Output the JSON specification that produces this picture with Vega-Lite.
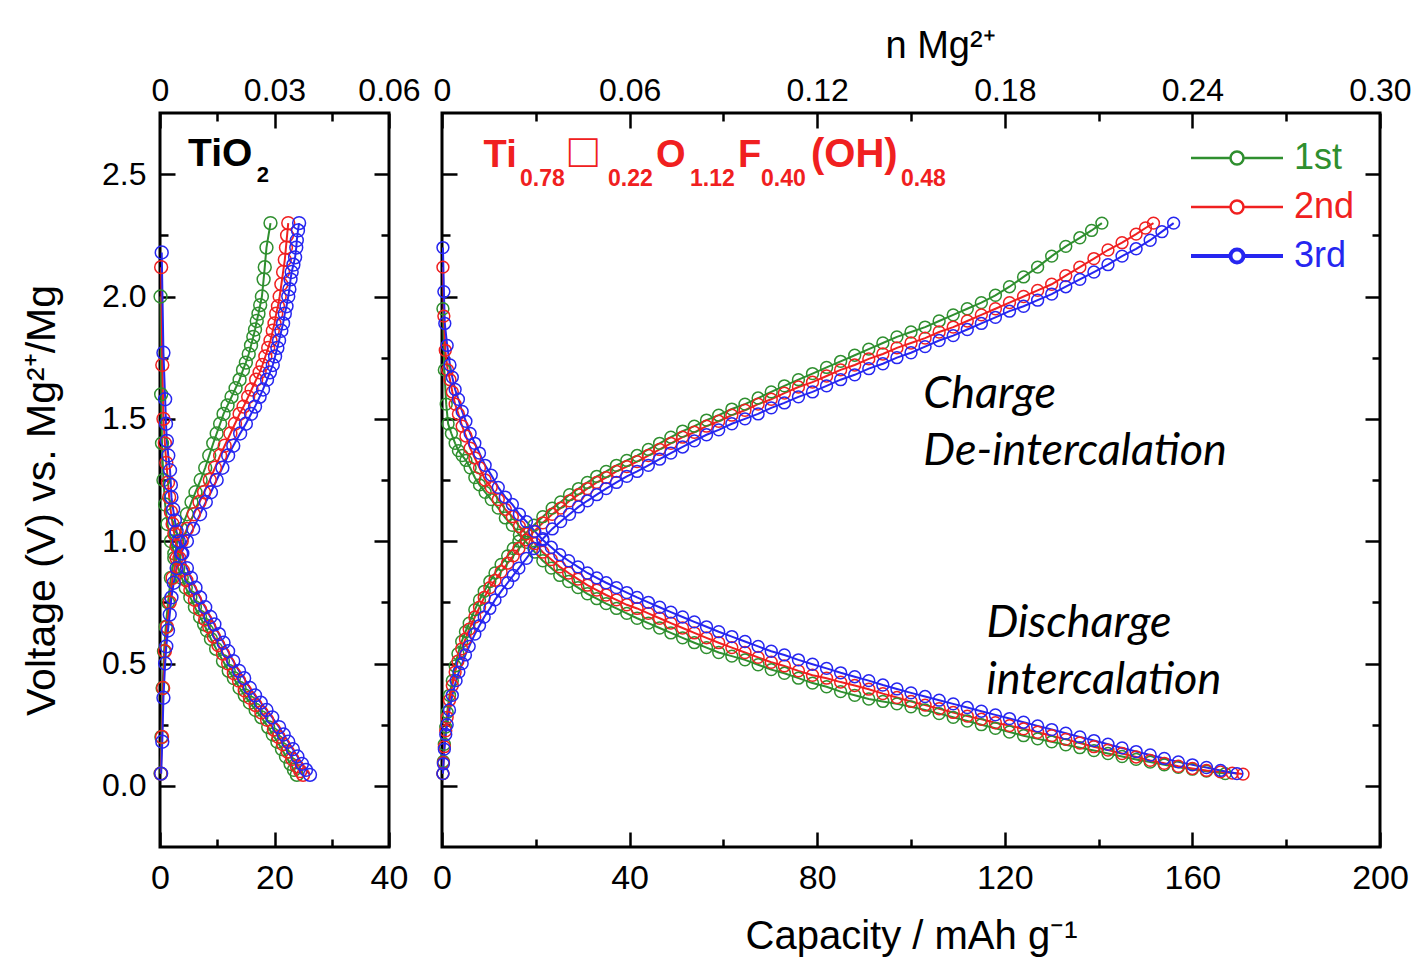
{
"$schema": "https://vega.github.io/schema/vega-lite/v6.json",
"padding": {"left": 20, "top": 25, "right": 5, "bottom": 2},
"bounds": "flush",
"spacing": 53,
"resolve": {"scale": {"x": "independent", "y": "independent", "color": "independent"}, "legend": {"color": "independent"}},
"config": {
 "view": {"stroke": "black", "strokeWidth": 3},
 "font": "Liberation Sans",
 "axis": {"domain": false, "grid": false, "labelFont": "Liberation Sans", "titleFont": "Liberation Sans", "labelColor": "black", "titleColor": "black", "tickColor": "black", "tickWidth": 2.5, "titleFontWeight": "normal", "labelFlush": false, "labelOverlap": false, "labelBound": false},
 "legend": {"title": null, "padding": 0, "rowPadding": 13, "symbolType": "M-4.6,0L-0.65,0M0.65,0L4.6,0M0.65,0A0.65,0.65,0,1,1,-0.65,0A0.65,0.65,0,1,1,0.65,0", "symbolSize": 400, "symbolOpacity": 1, "symbolFillColor": "transparent", "labelFont": "Liberation Sans", "labelFontSize": 36, "labelOffset": 39}
},
"datasets": {
"L": [
{"c":"1st","s":"d","x":0.1,"v":2.0},{"c":"1st","s":"d","x":0.2,"v":1.6},{"c":"1st","s":"d","x":0.35,"v":1.4},{"c":"1st","s":"d","x":0.6,"v":1.25},{"c":"1st","s":"d","x":0.9,"v":1.15},{"c":"1st","s":"d","x":1.3,"v":1.07},{"c":"1st","s":"d","x":1.9,"v":1.0},{"c":"1st","s":"d","x":2.5,"v":0.95},{"c":"1st","s":"d","x":3.2,"v":0.89},{"c":"1st","s":"d","x":3.8,"v":0.85},{"c":"1st","s":"d","x":4.5,"v":0.81},{"c":"1st","s":"d","x":5.3,"v":0.77},{"c":"1st","s":"d","x":6.1,"v":0.73},{"c":"1st","s":"d","x":7.0,"v":0.69},{"c":"1st","s":"d","x":7.7,"v":0.66},{"c":"1st","s":"d","x":8.2,"v":0.635},{"c":"1st","s":"d","x":8.9,"v":0.6},{"c":"1st","s":"d","x":9.8,"v":0.56},{"c":"1st","s":"d","x":11.0,"v":0.51},{"c":"1st","s":"d","x":12.0,"v":0.47},{"c":"1st","s":"d","x":12.9,"v":0.44},{"c":"1st","s":"d","x":13.9,"v":0.4},{"c":"1st","s":"d","x":14.8,"v":0.37},{"c":"1st","s":"d","x":15.7,"v":0.34},{"c":"1st","s":"d","x":16.7,"v":0.31},{"c":"1st","s":"d","x":17.7,"v":0.28},{"c":"1st","s":"d","x":18.9,"v":0.24},{"c":"1st","s":"d","x":19.7,"v":0.21},{"c":"1st","s":"d","x":20.5,"v":0.18},{"c":"1st","s":"d","x":21.3,"v":0.15},{"c":"1st","s":"d","x":22.0,"v":0.12},{"c":"1st","s":"d","x":22.8,"v":0.09},{"c":"1st","s":"d","x":23.4,"v":0.065},{"c":"1st","s":"d","x":23.9,"v":0.045},
{"c":"1st","s":"c","x":0.1,"v":0.05},{"c":"1st","s":"c","x":0.25,"v":0.2},{"c":"1st","s":"c","x":0.45,"v":0.4},{"c":"1st","s":"c","x":0.7,"v":0.55},{"c":"1st","s":"c","x":1.0,"v":0.65},{"c":"1st","s":"c","x":1.4,"v":0.75},{"c":"1st","s":"c","x":1.9,"v":0.85},{"c":"1st","s":"c","x":2.5,"v":0.93},{"c":"1st","s":"c","x":3.0,"v":1.0},{"c":"1st","s":"c","x":3.7,"v":1.05},{"c":"1st","s":"c","x":4.7,"v":1.11},{"c":"1st","s":"c","x":5.5,"v":1.16},{"c":"1st","s":"c","x":6.2,"v":1.2},{"c":"1st","s":"c","x":7.1,"v":1.25},{"c":"1st","s":"c","x":7.9,"v":1.3},{"c":"1st","s":"c","x":8.6,"v":1.35},{"c":"1st","s":"c","x":9.3,"v":1.4},{"c":"1st","s":"c","x":9.9,"v":1.44},{"c":"1st","s":"c","x":10.5,"v":1.48},{"c":"1st","s":"c","x":11.1,"v":1.52},{"c":"1st","s":"c","x":11.8,"v":1.555},{"c":"1st","s":"c","x":12.5,"v":1.59},{"c":"1st","s":"c","x":13.2,"v":1.625},{"c":"1st","s":"c","x":13.9,"v":1.66},{"c":"1st","s":"c","x":14.5,"v":1.7},{"c":"1st","s":"c","x":15.0,"v":1.73},{"c":"1st","s":"c","x":15.5,"v":1.765},{"c":"1st","s":"c","x":15.9,"v":1.8},{"c":"1st","s":"c","x":16.3,"v":1.835},{"c":"1st","s":"c","x":16.6,"v":1.865},{"c":"1st","s":"c","x":16.9,"v":1.9},{"c":"1st","s":"c","x":17.2,"v":1.93},{"c":"1st","s":"c","x":17.5,"v":1.965},{"c":"1st","s":"c","x":17.8,"v":2.0},{"c":"1st","s":"c","x":18.1,"v":2.07},{"c":"1st","s":"c","x":18.3,"v":2.12},{"c":"1st","s":"c","x":18.6,"v":2.2},{"c":"1st","s":"c","x":19.3,"v":2.3},
{"c":"2nd","s":"d","x":0.2,"v":2.12},{"c":"2nd","s":"d","x":0.4,"v":1.72},{"c":"2nd","s":"d","x":0.6,"v":1.5},{"c":"2nd","s":"d","x":0.85,"v":1.4},{"c":"2nd","s":"d","x":1.1,"v":1.32},{"c":"2nd","s":"d","x":1.4,"v":1.24},{"c":"2nd","s":"d","x":1.6,"v":1.18},{"c":"2nd","s":"d","x":1.9,"v":1.12},{"c":"2nd","s":"d","x":2.2,"v":1.07},{"c":"2nd","s":"d","x":2.5,"v":1.03},{"c":"2nd","s":"d","x":2.9,"v":0.98},{"c":"2nd","s":"d","x":3.4,"v":0.93},{"c":"2nd","s":"d","x":4.0,"v":0.88},{"c":"2nd","s":"d","x":4.6,"v":0.84},{"c":"2nd","s":"d","x":5.3,"v":0.8},{"c":"2nd","s":"d","x":6.1,"v":0.76},{"c":"2nd","s":"d","x":7.0,"v":0.72},{"c":"2nd","s":"d","x":7.9,"v":0.68},{"c":"2nd","s":"d","x":8.6,"v":0.65},{"c":"2nd","s":"d","x":9.4,"v":0.61},{"c":"2nd","s":"d","x":10.2,"v":0.575},{"c":"2nd","s":"d","x":11.0,"v":0.54},{"c":"2nd","s":"d","x":11.9,"v":0.5},{"c":"2nd","s":"d","x":12.9,"v":0.46},{"c":"2nd","s":"d","x":13.8,"v":0.43},{"c":"2nd","s":"d","x":14.8,"v":0.39},{"c":"2nd","s":"d","x":15.7,"v":0.36},{"c":"2nd","s":"d","x":16.7,"v":0.33},{"c":"2nd","s":"d","x":17.7,"v":0.3},{"c":"2nd","s":"d","x":18.7,"v":0.27},{"c":"2nd","s":"d","x":19.9,"v":0.23},{"c":"2nd","s":"d","x":20.7,"v":0.2},{"c":"2nd","s":"d","x":21.5,"v":0.17},{"c":"2nd","s":"d","x":22.3,"v":0.14},{"c":"2nd","s":"d","x":23.1,"v":0.11},{"c":"2nd","s":"d","x":23.9,"v":0.08},{"c":"2nd","s":"d","x":24.5,"v":0.06},{"c":"2nd","s":"d","x":25.0,"v":0.045},
{"c":"2nd","s":"c","x":0.15,"v":0.05},{"c":"2nd","s":"c","x":0.35,"v":0.2},{"c":"2nd","s":"c","x":0.55,"v":0.4},{"c":"2nd","s":"c","x":0.85,"v":0.55},{"c":"2nd","s":"c","x":1.2,"v":0.65},{"c":"2nd","s":"c","x":1.7,"v":0.75},{"c":"2nd","s":"c","x":2.2,"v":0.85},{"c":"2nd","s":"c","x":2.9,"v":0.93},{"c":"2nd","s":"c","x":3.8,"v":1.0},{"c":"2nd","s":"c","x":4.7,"v":1.05},{"c":"2nd","s":"c","x":5.9,"v":1.11},{"c":"2nd","s":"c","x":6.9,"v":1.16},{"c":"2nd","s":"c","x":7.7,"v":1.2},{"c":"2nd","s":"c","x":8.7,"v":1.25},{"c":"2nd","s":"c","x":9.6,"v":1.3},{"c":"2nd","s":"c","x":10.5,"v":1.35},{"c":"2nd","s":"c","x":11.3,"v":1.39},{"c":"2nd","s":"c","x":12.3,"v":1.44},{"c":"2nd","s":"c","x":13.1,"v":1.48},{"c":"2nd","s":"c","x":13.9,"v":1.52},{"c":"2nd","s":"c","x":14.6,"v":1.55},{"c":"2nd","s":"c","x":15.4,"v":1.59},{"c":"2nd","s":"c","x":16.0,"v":1.62},{"c":"2nd","s":"c","x":16.8,"v":1.66},{"c":"2nd","s":"c","x":17.4,"v":1.69},{"c":"2nd","s":"c","x":17.9,"v":1.72},{"c":"2nd","s":"c","x":18.4,"v":1.755},{"c":"2nd","s":"c","x":18.9,"v":1.79},{"c":"2nd","s":"c","x":19.3,"v":1.82},{"c":"2nd","s":"c","x":19.7,"v":1.86},{"c":"2nd","s":"c","x":20.0,"v":1.89},{"c":"2nd","s":"c","x":20.3,"v":1.93},{"c":"2nd","s":"c","x":20.6,"v":1.96},{"c":"2nd","s":"c","x":20.9,"v":2.0},{"c":"2nd","s":"c","x":21.2,"v":2.05},{"c":"2nd","s":"c","x":21.5,"v":2.1},{"c":"2nd","s":"c","x":21.8,"v":2.15},{"c":"2nd","s":"c","x":22.0,"v":2.2},{"c":"2nd","s":"c","x":22.2,"v":2.25},{"c":"2nd","s":"c","x":22.4,"v":2.3},
{"c":"3rd","s":"d","x":0.3,"v":2.18},{"c":"3rd","s":"d","x":0.6,"v":1.77},{"c":"3rd","s":"d","x":0.9,"v":1.58},{"c":"3rd","s":"d","x":1.05,"v":1.48},{"c":"3rd","s":"d","x":1.2,"v":1.41},{"c":"3rd","s":"d","x":1.45,"v":1.35},{"c":"3rd","s":"d","x":1.75,"v":1.29},{"c":"3rd","s":"d","x":1.9,"v":1.23},{"c":"3rd","s":"d","x":2.0,"v":1.18},{"c":"3rd","s":"d","x":2.3,"v":1.13},{"c":"3rd","s":"d","x":2.6,"v":1.085},{"c":"3rd","s":"d","x":2.9,"v":1.04},{"c":"3rd","s":"d","x":3.3,"v":1.0},{"c":"3rd","s":"d","x":3.9,"v":0.95},{"c":"3rd","s":"d","x":4.7,"v":0.89},{"c":"3rd","s":"d","x":5.4,"v":0.85},{"c":"3rd","s":"d","x":6.2,"v":0.81},{"c":"3rd","s":"d","x":7.0,"v":0.77},{"c":"3rd","s":"d","x":7.9,"v":0.73},{"c":"3rd","s":"d","x":8.8,"v":0.69},{"c":"3rd","s":"d","x":9.5,"v":0.66},{"c":"3rd","s":"d","x":10.3,"v":0.62},{"c":"3rd","s":"d","x":11.1,"v":0.585},{"c":"3rd","s":"d","x":11.9,"v":0.55},{"c":"3rd","s":"d","x":12.8,"v":0.51},{"c":"3rd","s":"d","x":13.8,"v":0.47},{"c":"3rd","s":"d","x":14.7,"v":0.44},{"c":"3rd","s":"d","x":15.7,"v":0.4},{"c":"3rd","s":"d","x":16.6,"v":0.37},{"c":"3rd","s":"d","x":17.6,"v":0.34},{"c":"3rd","s":"d","x":18.6,"v":0.31},{"c":"3rd","s":"d","x":19.6,"v":0.28},{"c":"3rd","s":"d","x":20.8,"v":0.24},{"c":"3rd","s":"d","x":21.6,"v":0.21},{"c":"3rd","s":"d","x":22.4,"v":0.18},{"c":"3rd","s":"d","x":23.2,"v":0.15},{"c":"3rd","s":"d","x":24.0,"v":0.12},{"c":"3rd","s":"d","x":24.8,"v":0.09},{"c":"3rd","s":"d","x":25.5,"v":0.065},{"c":"3rd","s":"d","x":26.2,"v":0.045},
{"c":"3rd","s":"c","x":0.2,"v":0.05},{"c":"3rd","s":"c","x":0.4,"v":0.18},{"c":"3rd","s":"c","x":0.6,"v":0.36},{"c":"3rd","s":"c","x":0.9,"v":0.5},{"c":"3rd","s":"c","x":1.1,"v":0.57},{"c":"3rd","s":"c","x":1.4,"v":0.635},{"c":"3rd","s":"c","x":1.7,"v":0.7},{"c":"3rd","s":"c","x":2.0,"v":0.77},{"c":"3rd","s":"c","x":2.4,"v":0.83},{"c":"3rd","s":"c","x":2.9,"v":0.89},{"c":"3rd","s":"c","x":3.7,"v":0.95},{"c":"3rd","s":"c","x":4.7,"v":1.0},{"c":"3rd","s":"c","x":5.8,"v":1.05},{"c":"3rd","s":"c","x":7.0,"v":1.11},{"c":"3rd","s":"c","x":8.0,"v":1.16},{"c":"3rd","s":"c","x":8.9,"v":1.2},{"c":"3rd","s":"c","x":9.9,"v":1.25},{"c":"3rd","s":"c","x":10.9,"v":1.3},{"c":"3rd","s":"c","x":11.9,"v":1.35},{"c":"3rd","s":"c","x":12.8,"v":1.39},{"c":"3rd","s":"c","x":14.0,"v":1.44},{"c":"3rd","s":"c","x":15.0,"v":1.48},{"c":"3rd","s":"c","x":15.9,"v":1.52},{"c":"3rd","s":"c","x":16.6,"v":1.55},{"c":"3rd","s":"c","x":17.4,"v":1.59},{"c":"3rd","s":"c","x":18.0,"v":1.62},{"c":"3rd","s":"c","x":18.7,"v":1.66},{"c":"3rd","s":"c","x":19.2,"v":1.69},{"c":"3rd","s":"c","x":19.7,"v":1.72},{"c":"3rd","s":"c","x":20.1,"v":1.755},{"c":"3rd","s":"c","x":20.5,"v":1.79},{"c":"3rd","s":"c","x":20.8,"v":1.82},{"c":"3rd","s":"c","x":21.2,"v":1.86},{"c":"3rd","s":"c","x":21.5,"v":1.89},{"c":"3rd","s":"c","x":21.8,"v":1.93},{"c":"3rd","s":"c","x":22.1,"v":1.96},{"c":"3rd","s":"c","x":22.4,"v":2.0},{"c":"3rd","s":"c","x":22.6,"v":2.03},{"c":"3rd","s":"c","x":22.8,"v":2.07},{"c":"3rd","s":"c","x":23.0,"v":2.1},{"c":"3rd","s":"c","x":23.3,"v":2.13},{"c":"3rd","s":"c","x":23.6,"v":2.16},{"c":"3rd","s":"c","x":23.8,"v":2.2},{"c":"3rd","s":"c","x":23.9,"v":2.23},{"c":"3rd","s":"c","x":24.1,"v":2.27},{"c":"3rd","s":"c","x":24.3,"v":2.3}
],
"R": [
{"c":"1st","s":"d","x":0.2,"v":1.95},{"c":"1st","s":"d","x":0.5,"v":1.7},{"c":"1st","s":"d","x":0.9,"v":1.56},{"c":"1st","s":"d","x":1.3,"v":1.48},{"c":"1st","s":"d","x":2.0,"v":1.44},{"c":"1st","s":"d","x":2.8,"v":1.4},{"c":"1st","s":"d","x":3.5,"v":1.37},{"c":"1st","s":"d","x":4.3,"v":1.35},{"c":"1st","s":"d","x":5.1,"v":1.33},{"c":"1st","s":"d","x":6.0,"v":1.3},{"c":"1st","s":"d","x":7.0,"v":1.26},{"c":"1st","s":"d","x":8.0,"v":1.23},{"c":"1st","s":"d","x":9.2,"v":1.2},{"c":"1st","s":"d","x":10.5,"v":1.17},{"c":"1st","s":"d","x":12.0,"v":1.135},{"c":"1st","s":"d","x":13.5,"v":1.095},{"c":"1st","s":"d","x":15.0,"v":1.065},{"c":"1st","s":"d","x":16.5,"v":1.025},{"c":"1st","s":"d","x":18.0,"v":0.995},{"c":"1st","s":"d","x":19.8,"v":0.955},{"c":"1st","s":"d","x":21.5,"v":0.92},{"c":"1st","s":"d","x":23.3,"v":0.89},{"c":"1st","s":"d","x":25.1,"v":0.86},{"c":"1st","s":"d","x":27.0,"v":0.835},{"c":"1st","s":"d","x":29.0,"v":0.81},{"c":"1st","s":"d","x":31.0,"v":0.785},{"c":"1st","s":"d","x":33.0,"v":0.765},{"c":"1st","s":"d","x":35.0,"v":0.745},{"c":"1st","s":"d","x":37.2,"v":0.725},{"c":"1st","s":"d","x":39.4,"v":0.705},{"c":"1st","s":"d","x":41.6,"v":0.685},{"c":"1st","s":"d","x":44.0,"v":0.665},{"c":"1st","s":"d","x":46.4,"v":0.645},{"c":"1st","s":"d","x":48.8,"v":0.625},{"c":"1st","s":"d","x":51.3,"v":0.605},{"c":"1st","s":"d","x":53.8,"v":0.585},{"c":"1st","s":"d","x":56.4,"v":0.565},{"c":"1st","s":"d","x":59.0,"v":0.545},{"c":"1st","s":"d","x":61.8,"v":0.53},{"c":"1st","s":"d","x":64.6,"v":0.515},{"c":"1st","s":"d","x":67.4,"v":0.495},{"c":"1st","s":"d","x":70.2,"v":0.475},{"c":"1st","s":"d","x":73.0,"v":0.46},{"c":"1st","s":"d","x":76.0,"v":0.44},{"c":"1st","s":"d","x":79.0,"v":0.42},{"c":"1st","s":"d","x":82.0,"v":0.405},{"c":"1st","s":"d","x":85.0,"v":0.385},{"c":"1st","s":"d","x":88.0,"v":0.37},{"c":"1st","s":"d","x":91.0,"v":0.355},{"c":"1st","s":"d","x":94.0,"v":0.345},{"c":"1st","s":"d","x":97.0,"v":0.335},{"c":"1st","s":"d","x":100.0,"v":0.323},{"c":"1st","s":"d","x":103.0,"v":0.31},{"c":"1st","s":"d","x":106.0,"v":0.295},{"c":"1st","s":"d","x":109.0,"v":0.28},{"c":"1st","s":"d","x":112.0,"v":0.265},{"c":"1st","s":"d","x":115.0,"v":0.25},{"c":"1st","s":"d","x":118.0,"v":0.235},{"c":"1st","s":"d","x":121.0,"v":0.22},{"c":"1st","s":"d","x":124.0,"v":0.205},{"c":"1st","s":"d","x":127.0,"v":0.192},{"c":"1st","s":"d","x":130.0,"v":0.18},{"c":"1st","s":"d","x":133.0,"v":0.168},{"c":"1st","s":"d","x":136.0,"v":0.156},{"c":"1st","s":"d","x":139.0,"v":0.144},{"c":"1st","s":"d","x":142.0,"v":0.132},{"c":"1st","s":"d","x":145.0,"v":0.12},{"c":"1st","s":"d","x":148.0,"v":0.108},{"c":"1st","s":"d","x":151.0,"v":0.097},{"c":"1st","s":"d","x":154.0,"v":0.086},{"c":"1st","s":"d","x":157.0,"v":0.076},{"c":"1st","s":"d","x":160.0,"v":0.068},{"c":"1st","s":"d","x":163.0,"v":0.06},{"c":"1st","s":"d","x":167.0,"v":0.05},
{"c":"1st","s":"c","x":0.2,"v":0.05},{"c":"1st","s":"c","x":0.3,"v":0.1},{"c":"1st","s":"c","x":0.5,"v":0.17},{"c":"1st","s":"c","x":0.8,"v":0.24},{"c":"1st","s":"c","x":1.1,"v":0.3},{"c":"1st","s":"c","x":1.6,"v":0.37},{"c":"1st","s":"c","x":2.2,"v":0.43},{"c":"1st","s":"c","x":2.8,"v":0.49},{"c":"1st","s":"c","x":3.4,"v":0.54},{"c":"1st","s":"c","x":4.2,"v":0.59},{"c":"1st","s":"c","x":5.0,"v":0.63},{"c":"1st","s":"c","x":5.8,"v":0.665},{"c":"1st","s":"c","x":7.0,"v":0.72},{"c":"1st","s":"c","x":8.0,"v":0.76},{"c":"1st","s":"c","x":9.0,"v":0.795},{"c":"1st","s":"c","x":10.2,"v":0.835},{"c":"1st","s":"c","x":11.3,"v":0.87},{"c":"1st","s":"c","x":12.6,"v":0.905},{"c":"1st","s":"c","x":14.0,"v":0.94},{"c":"1st","s":"c","x":15.2,"v":0.97},{"c":"1st","s":"c","x":16.4,"v":1.0},{"c":"1st","s":"c","x":18.0,"v":1.035},{"c":"1st","s":"c","x":19.6,"v":1.065},{"c":"1st","s":"c","x":21.5,"v":1.1},{"c":"1st","s":"c","x":23.5,"v":1.135},{"c":"1st","s":"c","x":25.3,"v":1.16},{"c":"1st","s":"c","x":27.2,"v":1.19},{"c":"1st","s":"c","x":29.1,"v":1.215},{"c":"1st","s":"c","x":31.0,"v":1.24},{"c":"1st","s":"c","x":33.0,"v":1.265},{"c":"1st","s":"c","x":35.0,"v":1.285},{"c":"1st","s":"c","x":37.2,"v":1.31},{"c":"1st","s":"c","x":39.4,"v":1.33},{"c":"1st","s":"c","x":41.6,"v":1.35},{"c":"1st","s":"c","x":44.0,"v":1.375},{"c":"1st","s":"c","x":46.4,"v":1.4},{"c":"1st","s":"c","x":48.8,"v":1.425},{"c":"1st","s":"c","x":51.3,"v":1.45},{"c":"1st","s":"c","x":53.8,"v":1.47},{"c":"1st","s":"c","x":56.4,"v":1.495},{"c":"1st","s":"c","x":59.0,"v":1.515},{"c":"1st","s":"c","x":61.8,"v":1.54},{"c":"1st","s":"c","x":64.6,"v":1.56},{"c":"1st","s":"c","x":67.4,"v":1.585},{"c":"1st","s":"c","x":70.2,"v":1.61},{"c":"1st","s":"c","x":73.0,"v":1.635},{"c":"1st","s":"c","x":76.0,"v":1.66},{"c":"1st","s":"c","x":79.0,"v":1.685},{"c":"1st","s":"c","x":82.0,"v":1.71},{"c":"1st","s":"c","x":85.0,"v":1.735},{"c":"1st","s":"c","x":88.0,"v":1.76},{"c":"1st","s":"c","x":91.0,"v":1.785},{"c":"1st","s":"c","x":94.0,"v":1.81},{"c":"1st","s":"c","x":97.0,"v":1.835},{"c":"1st","s":"c","x":100.0,"v":1.855},{"c":"1st","s":"c","x":103.0,"v":1.875},{"c":"1st","s":"c","x":106.0,"v":1.9},{"c":"1st","s":"c","x":109.0,"v":1.925},{"c":"1st","s":"c","x":112.0,"v":1.95},{"c":"1st","s":"c","x":115.0,"v":1.975},{"c":"1st","s":"c","x":118.0,"v":2.005},{"c":"1st","s":"c","x":121.0,"v":2.04},{"c":"1st","s":"c","x":124.0,"v":2.08},{"c":"1st","s":"c","x":127.0,"v":2.12},{"c":"1st","s":"c","x":130.0,"v":2.165},{"c":"1st","s":"c","x":133.0,"v":2.205},{"c":"1st","s":"c","x":136.0,"v":2.24},{"c":"1st","s":"c","x":138.5,"v":2.27},{"c":"1st","s":"c","x":140.7,"v":2.3},
{"c":"2nd","s":"d","x":0.2,"v":2.12},{"c":"2nd","s":"d","x":0.4,"v":1.92},{"c":"2nd","s":"d","x":0.7,"v":1.78},{"c":"2nd","s":"d","x":1.2,"v":1.7},{"c":"2nd","s":"d","x":1.7,"v":1.66},{"c":"2nd","s":"d","x":2.2,"v":1.61},{"c":"2nd","s":"d","x":2.8,"v":1.56},{"c":"2nd","s":"d","x":3.5,"v":1.52},{"c":"2nd","s":"d","x":4.3,"v":1.47},{"c":"2nd","s":"d","x":5.1,"v":1.43},{"c":"2nd","s":"d","x":6.0,"v":1.38},{"c":"2nd","s":"d","x":7.0,"v":1.34},{"c":"2nd","s":"d","x":8.0,"v":1.3},{"c":"2nd","s":"d","x":9.2,"v":1.25},{"c":"2nd","s":"d","x":10.5,"v":1.22},{"c":"2nd","s":"d","x":12.0,"v":1.17},{"c":"2nd","s":"d","x":13.5,"v":1.13},{"c":"2nd","s":"d","x":15.0,"v":1.1},{"c":"2nd","s":"d","x":16.5,"v":1.06},{"c":"2nd","s":"d","x":18.0,"v":1.03},{"c":"2nd","s":"d","x":19.8,"v":0.99},{"c":"2nd","s":"d","x":21.5,"v":0.955},{"c":"2nd","s":"d","x":23.3,"v":0.925},{"c":"2nd","s":"d","x":25.1,"v":0.895},{"c":"2nd","s":"d","x":27.0,"v":0.87},{"c":"2nd","s":"d","x":29.0,"v":0.845},{"c":"2nd","s":"d","x":31.0,"v":0.82},{"c":"2nd","s":"d","x":33.0,"v":0.8},{"c":"2nd","s":"d","x":35.0,"v":0.78},{"c":"2nd","s":"d","x":37.2,"v":0.76},{"c":"2nd","s":"d","x":39.4,"v":0.74},{"c":"2nd","s":"d","x":41.6,"v":0.725},{"c":"2nd","s":"d","x":44.0,"v":0.705},{"c":"2nd","s":"d","x":46.4,"v":0.685},{"c":"2nd","s":"d","x":48.8,"v":0.665},{"c":"2nd","s":"d","x":51.3,"v":0.645},{"c":"2nd","s":"d","x":53.8,"v":0.625},{"c":"2nd","s":"d","x":56.4,"v":0.605},{"c":"2nd","s":"d","x":59.0,"v":0.585},{"c":"2nd","s":"d","x":61.8,"v":0.565},{"c":"2nd","s":"d","x":64.6,"v":0.545},{"c":"2nd","s":"d","x":67.4,"v":0.525},{"c":"2nd","s":"d","x":70.2,"v":0.505},{"c":"2nd","s":"d","x":73.0,"v":0.49},{"c":"2nd","s":"d","x":76.0,"v":0.47},{"c":"2nd","s":"d","x":79.0,"v":0.452},{"c":"2nd","s":"d","x":82.0,"v":0.44},{"c":"2nd","s":"d","x":85.0,"v":0.424},{"c":"2nd","s":"d","x":88.0,"v":0.41},{"c":"2nd","s":"d","x":91.0,"v":0.395},{"c":"2nd","s":"d","x":94.0,"v":0.377},{"c":"2nd","s":"d","x":97.0,"v":0.361},{"c":"2nd","s":"d","x":100.0,"v":0.345},{"c":"2nd","s":"d","x":103.0,"v":0.33},{"c":"2nd","s":"d","x":106.0,"v":0.315},{"c":"2nd","s":"d","x":109.0,"v":0.3},{"c":"2nd","s":"d","x":112.0,"v":0.285},{"c":"2nd","s":"d","x":115.0,"v":0.272},{"c":"2nd","s":"d","x":118.0,"v":0.258},{"c":"2nd","s":"d","x":121.0,"v":0.246},{"c":"2nd","s":"d","x":124.0,"v":0.233},{"c":"2nd","s":"d","x":127.0,"v":0.219},{"c":"2nd","s":"d","x":130.0,"v":0.205},{"c":"2nd","s":"d","x":133.0,"v":0.19},{"c":"2nd","s":"d","x":136.0,"v":0.175},{"c":"2nd","s":"d","x":139.0,"v":0.16},{"c":"2nd","s":"d","x":142.0,"v":0.146},{"c":"2nd","s":"d","x":145.0,"v":0.132},{"c":"2nd","s":"d","x":148.0,"v":0.118},{"c":"2nd","s":"d","x":151.0,"v":0.104},{"c":"2nd","s":"d","x":154.0,"v":0.092},{"c":"2nd","s":"d","x":157.0,"v":0.08},{"c":"2nd","s":"d","x":160.0,"v":0.071},{"c":"2nd","s":"d","x":163.0,"v":0.063},{"c":"2nd","s":"d","x":166.0,"v":0.057},{"c":"2nd","s":"d","x":168.5,"v":0.052},{"c":"2nd","s":"d","x":170.8,"v":0.048},
{"c":"2nd","s":"c","x":0.2,"v":0.05},{"c":"2nd","s":"c","x":0.3,"v":0.095},{"c":"2nd","s":"c","x":0.5,"v":0.16},{"c":"2nd","s":"c","x":0.8,"v":0.225},{"c":"2nd","s":"c","x":1.1,"v":0.28},{"c":"2nd","s":"c","x":1.6,"v":0.35},{"c":"2nd","s":"c","x":2.2,"v":0.41},{"c":"2nd","s":"c","x":2.8,"v":0.465},{"c":"2nd","s":"c","x":3.4,"v":0.51},{"c":"2nd","s":"c","x":4.2,"v":0.56},{"c":"2nd","s":"c","x":5.0,"v":0.6},{"c":"2nd","s":"c","x":5.8,"v":0.64},{"c":"2nd","s":"c","x":7.0,"v":0.69},{"c":"2nd","s":"c","x":8.0,"v":0.73},{"c":"2nd","s":"c","x":9.0,"v":0.77},{"c":"2nd","s":"c","x":10.2,"v":0.81},{"c":"2nd","s":"c","x":11.3,"v":0.84},{"c":"2nd","s":"c","x":12.6,"v":0.875},{"c":"2nd","s":"c","x":14.0,"v":0.91},{"c":"2nd","s":"c","x":15.2,"v":0.94},{"c":"2nd","s":"c","x":16.4,"v":0.97},{"c":"2nd","s":"c","x":18.0,"v":1.005},{"c":"2nd","s":"c","x":19.6,"v":1.04},{"c":"2nd","s":"c","x":21.5,"v":1.075},{"c":"2nd","s":"c","x":23.5,"v":1.11},{"c":"2nd","s":"c","x":25.3,"v":1.135},{"c":"2nd","s":"c","x":27.2,"v":1.165},{"c":"2nd","s":"c","x":29.1,"v":1.19},{"c":"2nd","s":"c","x":31.0,"v":1.215},{"c":"2nd","s":"c","x":33.0,"v":1.24},{"c":"2nd","s":"c","x":35.0,"v":1.26},{"c":"2nd","s":"c","x":37.2,"v":1.285},{"c":"2nd","s":"c","x":39.4,"v":1.305},{"c":"2nd","s":"c","x":41.6,"v":1.325},{"c":"2nd","s":"c","x":44.0,"v":1.35},{"c":"2nd","s":"c","x":46.4,"v":1.375},{"c":"2nd","s":"c","x":48.8,"v":1.4},{"c":"2nd","s":"c","x":51.3,"v":1.425},{"c":"2nd","s":"c","x":53.8,"v":1.445},{"c":"2nd","s":"c","x":56.4,"v":1.47},{"c":"2nd","s":"c","x":59.0,"v":1.49},{"c":"2nd","s":"c","x":61.8,"v":1.515},{"c":"2nd","s":"c","x":64.6,"v":1.535},{"c":"2nd","s":"c","x":67.4,"v":1.56},{"c":"2nd","s":"c","x":70.2,"v":1.58},{"c":"2nd","s":"c","x":73.0,"v":1.605},{"c":"2nd","s":"c","x":76.0,"v":1.63},{"c":"2nd","s":"c","x":79.0,"v":1.65},{"c":"2nd","s":"c","x":82.0,"v":1.675},{"c":"2nd","s":"c","x":85.0,"v":1.7},{"c":"2nd","s":"c","x":88.0,"v":1.72},{"c":"2nd","s":"c","x":91.0,"v":1.745},{"c":"2nd","s":"c","x":94.0,"v":1.765},{"c":"2nd","s":"c","x":97.0,"v":1.79},{"c":"2nd","s":"c","x":100.0,"v":1.81},{"c":"2nd","s":"c","x":103.0,"v":1.83},{"c":"2nd","s":"c","x":106.0,"v":1.855},{"c":"2nd","s":"c","x":109.0,"v":1.875},{"c":"2nd","s":"c","x":112.0,"v":1.9},{"c":"2nd","s":"c","x":115.0,"v":1.925},{"c":"2nd","s":"c","x":118.0,"v":1.95},{"c":"2nd","s":"c","x":121.0,"v":1.975},{"c":"2nd","s":"c","x":124.0,"v":2.0},{"c":"2nd","s":"c","x":127.0,"v":2.025},{"c":"2nd","s":"c","x":130.0,"v":2.05},{"c":"2nd","s":"c","x":133.0,"v":2.085},{"c":"2nd","s":"c","x":136.0,"v":2.12},{"c":"2nd","s":"c","x":139.0,"v":2.155},{"c":"2nd","s":"c","x":142.0,"v":2.19},{"c":"2nd","s":"c","x":145.0,"v":2.22},{"c":"2nd","s":"c","x":148.0,"v":2.255},{"c":"2nd","s":"c","x":150.0,"v":2.28},{"c":"2nd","s":"c","x":151.7,"v":2.3},
{"c":"3rd","s":"d","x":0.2,"v":2.2},{"c":"3rd","s":"d","x":0.4,"v":2.02},{"c":"3rd","s":"d","x":0.6,"v":1.89},{"c":"3rd","s":"d","x":1.1,"v":1.8},{"c":"3rd","s":"d","x":1.7,"v":1.72},{"c":"3rd","s":"d","x":2.2,"v":1.67},{"c":"3rd","s":"d","x":2.8,"v":1.62},{"c":"3rd","s":"d","x":3.5,"v":1.58},{"c":"3rd","s":"d","x":4.3,"v":1.53},{"c":"3rd","s":"d","x":5.1,"v":1.49},{"c":"3rd","s":"d","x":6.0,"v":1.44},{"c":"3rd","s":"d","x":7.0,"v":1.4},{"c":"3rd","s":"d","x":8.0,"v":1.36},{"c":"3rd","s":"d","x":9.2,"v":1.31},{"c":"3rd","s":"d","x":10.5,"v":1.27},{"c":"3rd","s":"d","x":12.0,"v":1.22},{"c":"3rd","s":"d","x":13.5,"v":1.18},{"c":"3rd","s":"d","x":15.0,"v":1.15},{"c":"3rd","s":"d","x":16.5,"v":1.11},{"c":"3rd","s":"d","x":18.0,"v":1.08},{"c":"3rd","s":"d","x":19.8,"v":1.04},{"c":"3rd","s":"d","x":21.5,"v":1.005},{"c":"3rd","s":"d","x":23.3,"v":0.975},{"c":"3rd","s":"d","x":25.1,"v":0.945},{"c":"3rd","s":"d","x":27.0,"v":0.92},{"c":"3rd","s":"d","x":29.0,"v":0.895},{"c":"3rd","s":"d","x":31.0,"v":0.87},{"c":"3rd","s":"d","x":33.0,"v":0.85},{"c":"3rd","s":"d","x":35.0,"v":0.83},{"c":"3rd","s":"d","x":37.2,"v":0.81},{"c":"3rd","s":"d","x":39.4,"v":0.79},{"c":"3rd","s":"d","x":41.6,"v":0.77},{"c":"3rd","s":"d","x":44.0,"v":0.75},{"c":"3rd","s":"d","x":46.4,"v":0.73},{"c":"3rd","s":"d","x":48.8,"v":0.71},{"c":"3rd","s":"d","x":51.3,"v":0.69},{"c":"3rd","s":"d","x":53.8,"v":0.67},{"c":"3rd","s":"d","x":56.4,"v":0.65},{"c":"3rd","s":"d","x":59.0,"v":0.63},{"c":"3rd","s":"d","x":61.8,"v":0.61},{"c":"3rd","s":"d","x":64.6,"v":0.59},{"c":"3rd","s":"d","x":67.4,"v":0.57},{"c":"3rd","s":"d","x":70.2,"v":0.55},{"c":"3rd","s":"d","x":73.0,"v":0.535},{"c":"3rd","s":"d","x":76.0,"v":0.515},{"c":"3rd","s":"d","x":79.0,"v":0.497},{"c":"3rd","s":"d","x":82.0,"v":0.48},{"c":"3rd","s":"d","x":85.0,"v":0.462},{"c":"3rd","s":"d","x":88.0,"v":0.446},{"c":"3rd","s":"d","x":91.0,"v":0.43},{"c":"3rd","s":"d","x":94.0,"v":0.412},{"c":"3rd","s":"d","x":97.0,"v":0.396},{"c":"3rd","s":"d","x":100.0,"v":0.38},{"c":"3rd","s":"d","x":103.0,"v":0.365},{"c":"3rd","s":"d","x":106.0,"v":0.35},{"c":"3rd","s":"d","x":109.0,"v":0.335},{"c":"3rd","s":"d","x":112.0,"v":0.32},{"c":"3rd","s":"d","x":115.0,"v":0.305},{"c":"3rd","s":"d","x":118.0,"v":0.29},{"c":"3rd","s":"d","x":121.0,"v":0.275},{"c":"3rd","s":"d","x":124.0,"v":0.26},{"c":"3rd","s":"d","x":127.0,"v":0.245},{"c":"3rd","s":"d","x":130.0,"v":0.23},{"c":"3rd","s":"d","x":133.0,"v":0.215},{"c":"3rd","s":"d","x":136.0,"v":0.2},{"c":"3rd","s":"d","x":139.0,"v":0.185},{"c":"3rd","s":"d","x":142.0,"v":0.17},{"c":"3rd","s":"d","x":145.0,"v":0.155},{"c":"3rd","s":"d","x":148.0,"v":0.14},{"c":"3rd","s":"d","x":151.0,"v":0.126},{"c":"3rd","s":"d","x":154.0,"v":0.112},{"c":"3rd","s":"d","x":157.0,"v":0.098},{"c":"3rd","s":"d","x":160.0,"v":0.086},{"c":"3rd","s":"d","x":163.0,"v":0.075},{"c":"3rd","s":"d","x":166.0,"v":0.063},{"c":"3rd","s":"d","x":169.5,"v":0.05},
{"c":"3rd","s":"c","x":0.2,"v":0.05},{"c":"3rd","s":"c","x":0.3,"v":0.09},{"c":"3rd","s":"c","x":0.5,"v":0.15},{"c":"3rd","s":"c","x":0.8,"v":0.21},{"c":"3rd","s":"c","x":1.1,"v":0.25},{"c":"3rd","s":"c","x":1.6,"v":0.31},{"c":"3rd","s":"c","x":2.2,"v":0.37},{"c":"3rd","s":"c","x":3.0,"v":0.43},{"c":"3rd","s":"c","x":3.6,"v":0.465},{"c":"3rd","s":"c","x":4.3,"v":0.5},{"c":"3rd","s":"c","x":5.0,"v":0.535},{"c":"3rd","s":"c","x":5.8,"v":0.57},{"c":"3rd","s":"c","x":7.0,"v":0.62},{"c":"3rd","s":"c","x":8.0,"v":0.655},{"c":"3rd","s":"c","x":9.0,"v":0.69},{"c":"3rd","s":"c","x":10.2,"v":0.725},{"c":"3rd","s":"c","x":11.3,"v":0.76},{"c":"3rd","s":"c","x":12.6,"v":0.795},{"c":"3rd","s":"c","x":14.0,"v":0.83},{"c":"3rd","s":"c","x":15.2,"v":0.86},{"c":"3rd","s":"c","x":16.4,"v":0.89},{"c":"3rd","s":"c","x":18.0,"v":0.93},{"c":"3rd","s":"c","x":19.6,"v":0.97},{"c":"3rd","s":"c","x":21.5,"v":1.01},{"c":"3rd","s":"c","x":23.5,"v":1.05},{"c":"3rd","s":"c","x":25.3,"v":1.08},{"c":"3rd","s":"c","x":27.2,"v":1.11},{"c":"3rd","s":"c","x":29.1,"v":1.14},{"c":"3rd","s":"c","x":31.0,"v":1.165},{"c":"3rd","s":"c","x":33.0,"v":1.19},{"c":"3rd","s":"c","x":35.0,"v":1.215},{"c":"3rd","s":"c","x":37.2,"v":1.24},{"c":"3rd","s":"c","x":39.4,"v":1.265},{"c":"3rd","s":"c","x":41.6,"v":1.285},{"c":"3rd","s":"c","x":44.0,"v":1.31},{"c":"3rd","s":"c","x":46.4,"v":1.335},{"c":"3rd","s":"c","x":48.8,"v":1.36},{"c":"3rd","s":"c","x":51.3,"v":1.385},{"c":"3rd","s":"c","x":53.8,"v":1.41},{"c":"3rd","s":"c","x":56.4,"v":1.435},{"c":"3rd","s":"c","x":59.0,"v":1.455},{"c":"3rd","s":"c","x":61.8,"v":1.48},{"c":"3rd","s":"c","x":64.6,"v":1.5},{"c":"3rd","s":"c","x":67.4,"v":1.52},{"c":"3rd","s":"c","x":70.2,"v":1.545},{"c":"3rd","s":"c","x":73.0,"v":1.565},{"c":"3rd","s":"c","x":76.0,"v":1.59},{"c":"3rd","s":"c","x":79.0,"v":1.61},{"c":"3rd","s":"c","x":82.0,"v":1.635},{"c":"3rd","s":"c","x":85.0,"v":1.66},{"c":"3rd","s":"c","x":88.0,"v":1.68},{"c":"3rd","s":"c","x":91.0,"v":1.705},{"c":"3rd","s":"c","x":94.0,"v":1.725},{"c":"3rd","s":"c","x":97.0,"v":1.75},{"c":"3rd","s":"c","x":100.0,"v":1.77},{"c":"3rd","s":"c","x":103.0,"v":1.795},{"c":"3rd","s":"c","x":106.0,"v":1.82},{"c":"3rd","s":"c","x":109.0,"v":1.84},{"c":"3rd","s":"c","x":112.0,"v":1.865},{"c":"3rd","s":"c","x":115.0,"v":1.89},{"c":"3rd","s":"c","x":118.0,"v":1.915},{"c":"3rd","s":"c","x":121.0,"v":1.94},{"c":"3rd","s":"c","x":124.0,"v":1.96},{"c":"3rd","s":"c","x":127.0,"v":1.985},{"c":"3rd","s":"c","x":130.0,"v":2.01},{"c":"3rd","s":"c","x":133.0,"v":2.04},{"c":"3rd","s":"c","x":136.0,"v":2.07},{"c":"3rd","s":"c","x":139.0,"v":2.1},{"c":"3rd","s":"c","x":142.0,"v":2.13},{"c":"3rd","s":"c","x":145.0,"v":2.165},{"c":"3rd","s":"c","x":148.0,"v":2.195},{"c":"3rd","s":"c","x":151.0,"v":2.23},{"c":"3rd","s":"c","x":153.5,"v":2.265},{"c":"3rd","s":"c","x":156.0,"v":2.3}
]
},
"hconcat": [
{
 "width": 229, "height": 734,
 "data": {"name": "L"},
 "resolve": {"axis": {"x": "independent", "y": "independent"}},
 "layer": [
  {"mark": {"type": "line", "strokeWidth": 2},
   "encoding": {
    "x": {"field": "x", "type": "quantitative", "scale": {"domain": [0, 40], "nice": false, "zero": false},
      "axis": {"orient": "bottom", "title": null, "values": [0, 10, 20, 30, 40], "labelExpr": "datum.value % 20 === 0 ? format(datum.value, 'd') : ''", "labelFontSize": 34, "labelPadding": 29, "tickSize": {"condition": {"test": "datum.value % 20 === 0", "value": -15}, "value": -8}}},
    "y": {"field": "v", "type": "quantitative", "scale": {"domain": [-0.25, 2.75], "nice": false, "zero": false},
      "axis": {"orient": "left", "title": "Voltage (V) vs. Mg²⁺/Mg", "titleFontSize": 41, "titlePadding": 38, "titleY": 387, "values": [0, 0.25, 0.5, 0.75, 1, 1.25, 1.5, 1.75, 2, 2.25, 2.5], "labelExpr": "round(datum.value * 4) % 2 === 0 ? format(datum.value, '.1f') : ''", "labelFontSize": 32, "labelPadding": 29, "tickSize": {"condition": {"test": "round(datum.value * 4) % 2 === 0", "value": -15}, "value": -8}}},
    "color": {"field": "c", "type": "nominal", "scale": {"domain": ["1st", "2nd", "3rd"], "range": ["#2f8f2f", "#f02020", "#2626f0"]}, "legend": null},
    "detail": {"field": "s"}
   }},
  {"mark": {"type": "point", "shape": "circle", "filled": false, "size": 165, "strokeWidth": 1.5, "opacity": 1},
   "encoding": {
    "x": {"field": "x", "type": "quantitative", "scale": {"domain": [0, 40], "nice": false, "zero": false},
      "axis": {"orient": "top", "title": null, "values": [0, 10, 20, 30, 40], "labelExpr": "datum.value % 20 === 0 ? (datum.value === 0 ? '0' : format(datum.value * 0.0015, '.2f')) : ''", "labelFontSize": 32, "labelPadding": 21, "tickSize": {"condition": {"test": "datum.value % 20 === 0", "value": -15}, "value": -8}}},
    "y": {"field": "v", "type": "quantitative", "scale": {"domain": [-0.25, 2.75], "nice": false, "zero": false},
      "axis": {"orient": "right", "title": null, "labels": false, "values": [0, 0.25, 0.5, 0.75, 1, 1.25, 1.5, 1.75, 2, 2.25, 2.5], "tickSize": {"condition": {"test": "round(datum.value * 4) % 2 === 0", "value": -15}, "value": -8}}},
    "color": {"field": "c", "type": "nominal", "scale": {"domain": ["1st", "2nd", "3rd"], "range": ["#2f8f2f", "#f02020", "#2626f0"]}, "legend": null}
   }},
  {"data": {"values": [{}]},
   "mark": {"type": "text", "text": "TiO", "align": "left", "baseline": "alphabetic", "font": "Liberation Sans", "fontWeight": "bold", "fontSize": 39, "color": "black"},
   "encoding": {"x": {"datum": 4.9, "type": "quantitative", "axis": null}, "y": {"datum": 2.533, "type": "quantitative", "axis": null}}},
  {"data": {"values": [{}]},
   "mark": {"type": "text", "text": "2", "align": "left", "baseline": "alphabetic", "font": "Liberation Sans", "fontWeight": "bold", "fontSize": 22, "color": "black"},
   "encoding": {"x": {"datum": 16.9, "type": "quantitative", "axis": null}, "y": {"datum": 2.467, "type": "quantitative", "axis": null}}}
 ]
},
{
 "width": 938, "height": 734,
 "data": {"name": "R"},
 "resolve": {"axis": {"x": "independent", "y": "independent"}},
 "layer": [
  {"mark": {"type": "line", "strokeWidth": 2},
   "encoding": {
    "x": {"field": "x", "type": "quantitative", "scale": {"domain": [0, 200], "nice": false, "zero": false},
      "axis": {"orient": "bottom", "title": "Capacity / mAh g⁻¹", "titleFontSize": 40, "titlePadding": 14, "values": [0, 20, 40, 60, 80, 100, 120, 140, 160, 180, 200], "labelExpr": "datum.value % 40 === 0 ? format(datum.value, 'd') : ''", "labelFontSize": 34, "labelPadding": 29, "tickSize": {"condition": {"test": "datum.value % 40 === 0", "value": -15}, "value": -8}}},
    "y": {"field": "v", "type": "quantitative", "scale": {"domain": [-0.25, 2.75], "nice": false, "zero": false},
      "axis": {"orient": "left", "title": null, "labels": false, "values": [0, 0.25, 0.5, 0.75, 1, 1.25, 1.5, 1.75, 2, 2.25, 2.5], "tickSize": {"condition": {"test": "round(datum.value * 4) % 2 === 0", "value": -15}, "value": -8}}},
    "color": {"field": "c", "type": "nominal", "scale": {"domain": ["1st", "2nd", "3rd"], "range": ["#2f8f2f", "#f02020", "#2626f0"]},
      "legend": {"orient": "none", "legendX": 777, "legendY": 27, "labelColor": {"expr": "datum.label === '1st' ? '#2f8f2f' : datum.label === '2nd' ? '#f02020' : '#2626f0'"}, "symbolStrokeWidth": {"expr": "datum.label === '3rd' ? 4 : 2.5"}}},
    "detail": {"field": "s"}
   }},
  {"mark": {"type": "point", "shape": "circle", "filled": false, "size": 140, "strokeWidth": 1.5, "opacity": 1},
   "encoding": {
    "x": {"field": "x", "type": "quantitative", "scale": {"domain": [0, 200], "nice": false, "zero": false},
      "axis": {"orient": "top", "title": "n Mg²⁺", "titleFontSize": 38, "titlePadding": 2, "titleX": 498, "values": [0, 20, 40, 60, 80, 100, 120, 140, 160, 180, 200], "labelExpr": "datum.value % 40 === 0 ? (datum.value === 0 ? '0' : format(datum.value * 0.0015, '.2f')) : ''", "labelFontSize": 32, "labelPadding": 21, "tickSize": {"condition": {"test": "datum.value % 40 === 0", "value": -15}, "value": -8}}},
    "y": {"field": "v", "type": "quantitative", "scale": {"domain": [-0.25, 2.75], "nice": false, "zero": false},
      "axis": {"orient": "right", "title": null, "labels": false, "values": [0, 0.25, 0.5, 0.75, 1, 1.25, 1.5, 1.75, 2, 2.25, 2.5], "tickSize": {"condition": {"test": "round(datum.value * 4) % 2 === 0", "value": -15}, "value": -8}}},
    "color": {"field": "c", "type": "nominal", "scale": {"domain": ["1st", "2nd", "3rd"], "range": ["#2f8f2f", "#f02020", "#2626f0"]},
      "legend": {"orient": "none", "legendX": 777, "legendY": 27, "labelColor": {"expr": "datum.label === '1st' ? '#2f8f2f' : datum.label === '2nd' ? '#f02020' : '#2626f0'"}, "symbolStrokeWidth": {"expr": "datum.label === '3rd' ? 4 : 2.5"}}}
   }},
  {"data": {"values": [{}]}, "mark": {"type": "text", "text": "Ti", "align": "left", "baseline": "alphabetic", "fontWeight": "bold", "fontSize": 38, "color": "#f02020"},
   "encoding": {"x": {"datum": 8.87, "type": "quantitative", "axis": null}, "y": {"datum": 2.529, "type": "quantitative", "axis": null}}},
  {"data": {"values": [{}]}, "mark": {"type": "text", "text": "0.78", "align": "left", "baseline": "alphabetic", "fontWeight": "bold", "fontSize": 23, "color": "#f02020"},
   "encoding": {"x": {"datum": 16.63, "type": "quantitative", "axis": null}, "y": {"datum": 2.451, "type": "quantitative", "axis": null}}},
  {"data": {"values": [{}]}, "mark": {"type": "text", "text": "□", "align": "left", "baseline": "alphabetic", "fontSize": 48, "color": "#f02020"},
   "encoding": {"x": {"datum": 27.0, "type": "quantitative", "axis": null}, "y": {"datum": 2.529, "type": "quantitative", "axis": null}}},
  {"data": {"values": [{}]}, "mark": {"type": "text", "text": "0.22", "align": "left", "baseline": "alphabetic", "fontWeight": "bold", "fontSize": 23, "color": "#f02020"},
   "encoding": {"x": {"datum": 35.39, "type": "quantitative", "axis": null}, "y": {"datum": 2.451, "type": "quantitative", "axis": null}}},
  {"data": {"values": [{}]}, "mark": {"type": "text", "text": "O", "align": "left", "baseline": "alphabetic", "fontWeight": "bold", "fontSize": 38, "color": "#f02020"},
   "encoding": {"x": {"datum": 45.63, "type": "quantitative", "axis": null}, "y": {"datum": 2.529, "type": "quantitative", "axis": null}}},
  {"data": {"values": [{}]}, "mark": {"type": "text", "text": "1.12", "align": "left", "baseline": "alphabetic", "fontWeight": "bold", "fontSize": 23, "color": "#f02020"},
   "encoding": {"x": {"datum": 52.88, "type": "quantitative", "axis": null}, "y": {"datum": 2.451, "type": "quantitative", "axis": null}}},
  {"data": {"values": [{}]}, "mark": {"type": "text", "text": "F", "align": "left", "baseline": "alphabetic", "fontWeight": "bold", "fontSize": 38, "color": "#f02020"},
   "encoding": {"x": {"datum": 63.11, "type": "quantitative", "axis": null}, "y": {"datum": 2.529, "type": "quantitative", "axis": null}}},
  {"data": {"values": [{}]}, "mark": {"type": "text", "text": "0.40", "align": "left", "baseline": "alphabetic", "fontWeight": "bold", "fontSize": 23, "color": "#f02020"},
   "encoding": {"x": {"datum": 68.02, "type": "quantitative", "axis": null}, "y": {"datum": 2.451, "type": "quantitative", "axis": null}}},
  {"data": {"values": [{}]}, "mark": {"type": "text", "text": "(OH)", "align": "left", "baseline": "alphabetic", "fontWeight": "bold", "fontSize": 40, "color": "#f02020"},
   "encoding": {"x": {"datum": 78.68, "type": "quantitative", "axis": null}, "y": {"datum": 2.529, "type": "quantitative", "axis": null}}},
  {"data": {"values": [{}]}, "mark": {"type": "text", "text": "0.48", "align": "left", "baseline": "alphabetic", "fontWeight": "bold", "fontSize": 23, "color": "#f02020"},
   "encoding": {"x": {"datum": 97.87, "type": "quantitative", "axis": null}, "y": {"datum": 2.451, "type": "quantitative", "axis": null}}},
  {"data": {"values": [{}]}, "mark": {"type": "text", "text": "Charge", "align": "left", "baseline": "alphabetic", "font": "Lato", "fontStyle": "italic", "fontSize": 45, "color": "black"},
   "encoding": {"x": {"datum": 102.6, "type": "quantitative", "axis": null}, "y": {"datum": 1.545, "type": "quantitative", "axis": null}}},
  {"data": {"values": [{}]}, "mark": {"type": "text", "text": "De-intercalation", "align": "left", "baseline": "alphabetic", "font": "Lato", "fontStyle": "italic", "fontSize": 45, "color": "black"},
   "encoding": {"x": {"datum": 102.6, "type": "quantitative", "axis": null}, "y": {"datum": 1.311, "type": "quantitative", "axis": null}}},
  {"data": {"values": [{}]}, "mark": {"type": "text", "text": "Discharge", "align": "left", "baseline": "alphabetic", "font": "Lato", "fontStyle": "italic", "fontSize": 45, "color": "black"},
   "encoding": {"x": {"datum": 116.1, "type": "quantitative", "axis": null}, "y": {"datum": 0.607, "type": "quantitative", "axis": null}}},
  {"data": {"values": [{}]}, "mark": {"type": "text", "text": "intercalation", "align": "left", "baseline": "alphabetic", "font": "Lato", "fontStyle": "italic", "fontSize": 45, "color": "black"},
   "encoding": {"x": {"datum": 116.1, "type": "quantitative", "axis": null}, "y": {"datum": 0.377, "type": "quantitative", "axis": null}}}
 ]
}
]
}
